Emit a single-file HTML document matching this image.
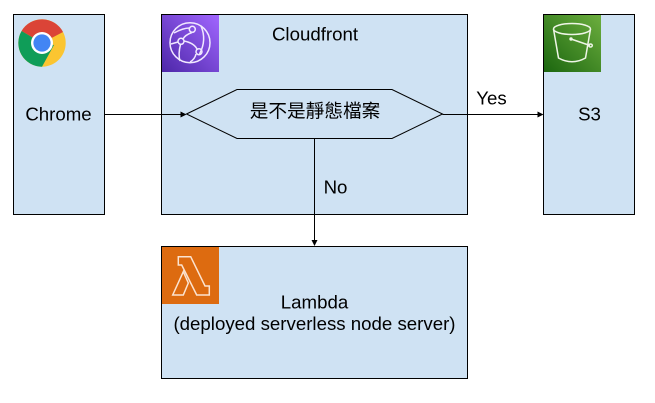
<!DOCTYPE html>
<html>
<head>
<meta charset="utf-8">
<style>
html,body{margin:0;padding:0;background:#fff;width:655px;height:403px;overflow:hidden}
svg{display:block}
text{font-family:"Liberation Sans","Noto Sans CJK TC",sans-serif;font-size:18.67px;fill:#000;text-anchor:middle}
</style>
</head>
<body>
<svg width="655" height="403" viewBox="0 0 655 403" xmlns="http://www.w3.org/2000/svg">
<defs>
<linearGradient id="p" x1="0" y1="1" x2="1" y2="0"><stop offset="0" stop-color="#4d27a8"/><stop offset="1" stop-color="#a166ff"/></linearGradient>
<linearGradient id="g" x1="0" y1="1" x2="1" y2="0"><stop offset="0" stop-color="#1b660f"/><stop offset="1" stop-color="#6cae3e"/></linearGradient>
</defs>
<g fill="#cfe2f3" stroke="#000" stroke-width="1">
<rect x="13.5" y="14.5" width="91" height="200"/>
<rect x="161.5" y="14.5" width="306" height="200"/>
<rect x="543.5" y="14.5" width="91" height="200"/>
<rect x="161.5" y="246.5" width="306" height="132"/>
</g>

<!-- Chrome icon -->
<circle cx="42" cy="43" r="23.7" fill="#fbc531"/>
<path d="M42 43 L21.6 31 A23.7 23.7 0 0 1 63 32 Z" fill="#db4437"/>
<path d="M42 43 L21.6 31 A23.7 23.7 0 0 0 42 66.7 L54 45 Z" fill="#0f9d58"/>
<circle cx="42" cy="43" r="11" fill="#fff"/>
<circle cx="42" cy="43" r="8.6" fill="#4285f4"/>

<!-- Cloudfront icon -->
<rect x="162" y="15" width="57" height="57" fill="url(#p)"/>
<g fill="none" stroke="#f0e8ff" stroke-width="1.5">
<circle cx="190" cy="42.700" r="20"/>
<path d="M174 33 Q183 28 189.500 28 M201 26 Q207 40 199.500 54 M192 32.500 Q185 35 183 39 M184 41 Q194 43 197 49 M180.500 44.500 Q178 54 180 61 M171 44 L178 42 M196 54 Q195 59 190 62"/>
<circle cx="192.300" cy="29.300" r="3"/>
<circle cx="181" cy="41.300" r="3"/>
<circle cx="199" cy="51.700" r="3"/>
</g>

<!-- S3 icon -->
<rect x="544" y="15" width="57" height="57" fill="url(#g)"/>
<g fill="none" stroke="#eef5e6" stroke-width="1.5">
<ellipse cx="572" cy="29" rx="18.500" ry="5.500"/>
<path d="M553.500 29 L558.500 58 Q572 65.500 585.500 58 L590.500 29"/>
<path d="M571 39 L590 45.500"/>
<ellipse cx="590.500" cy="45.500" rx="1.800" ry="1.500"/>
</g>
<circle cx="571" cy="39" r="1.700" fill="#eef5e6"/>

<!-- Lambda icon -->
<rect x="162" y="247" width="57" height="57" fill="#dd6b10"/>
<path d="M178.300 256.700 H190.700 L205 286 H209.300 V295 H196.700 L181.700 265 H178.300 Z M183.300 271.700 L172.700 295 H183.300 L188.300 283 Z" fill="none" stroke="#fbe3d0" stroke-width="1.500"/>

<!-- Hexagon -->
<path d="M186.500 114 L237 89.500 H392 L442.500 114 L392 138.500 H237 Z" fill="#cfe2f3" stroke="#000" stroke-width="1"/>

<!-- Connectors -->
<g stroke="#000" stroke-width="1" fill="none">
<path d="M104.500 114.500 H181"/>
<path d="M442.500 114.500 H538"/>
<path d="M314.500 138.500 V240"/>
</g>
<g fill="#000">
<path d="M186.500 114.500 L180.500 111.500 V117.500 Z"/>
<path d="M543.500 114.500 L537.500 111.500 V117.500 Z"/>
<path d="M314.500 246 L311.500 240 H317.500 Z"/>
</g>

<!-- Labels -->
<text x="58.500" y="120.500">Chrome</text>
<text x="315" y="40.500">Cloudfront</text>
<text x="315" y="117.500">是不是靜態檔案</text>
<text x="589.500" y="120.500">S3</text>
<text x="491.500" y="104.500">Yes</text>
<text x="335.500" y="193.500">No</text>
<text x="314.500" y="308.500">Lambda</text>
<text x="314.500" y="330">(deployed serverless node server)</text>
</svg>
</body>
</html>
